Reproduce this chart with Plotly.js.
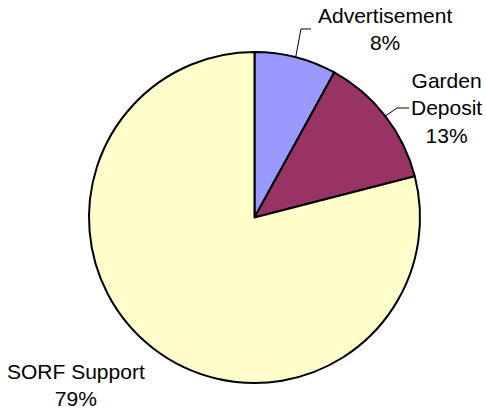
<!DOCTYPE html>
<html>
<head>
<meta charset="utf-8">
<script src="https://cdn.plot.ly/plotly-3.0.1.min.js"></script>
<style>html,body{margin:0;padding:0;background:#fff}#chart{width:486px;height:409px}</style>
</head>
<body>
<div id="chart"></div>
<script>
// Data
const categories = ['Advertisement', 'Garden Deposit', 'SORF Support'];
const values = [8, 13, 79];
const labelLines = ['Advertisement', 'Garden<br>Deposit', 'SORF Support'];
const colors = ['#9999FF', '#993366', '#FFFFCC'];

const W = 486, H = 409;
const pie = {left: 89, right: 420, top: 52, bottom: 383};
const cx = (pie.left + pie.right) / 2, cy = (pie.top + pie.bottom) / 2;
const R = (pie.right - pie.left) / 2;
const px = x => x / W, py = y => 1 - y / H;

const total = values.reduce((a, b) => a + b, 0);
const pct = values.map(v => Math.round(v / total * 100) + '%');

// label placement (pixel centers) and leader-line geometry
const labelPos = [
  {x: 385, y: 29, line: [[301, 29], [311, 29]]},
  {x: 446, y: 108, line: [[397, 108], [409, 108]]},
  {x: 76, y: 385, line: null}
];

let cum = 0;
const shapes = [];
values.forEach((v, i) => {
  const mid = (cum + v / 2) / total;
  cum += v;
  const lp = labelPos[i];
  if (!lp.line) return;
  const th = 2 * Math.PI * mid;
  const ex = cx + R * Math.sin(th), ey = cy - R * Math.cos(th);
  const pts = [[ex, ey]].concat(lp.line);
  const path = pts.map((p, k) => (k ? 'L' : 'M') + px(p[0]).toFixed(4) + ',' + py(p[1]).toFixed(4)).join(' ');
  shapes.push({type: 'path', xref: 'paper', yref: 'paper', path: path,
    line: {color: '#000', width: 1}});
});

const annotations = categories.map((c, i) => ({
  xref: 'paper', yref: 'paper',
  x: px(labelPos[i].x), y: py(labelPos[i].y),
  xanchor: 'center', yanchor: 'middle',
  text: labelLines[i] + '<br>' + pct[i],
  showarrow: false, align: 'center',
  font: {family: 'Liberation Sans, Arial, sans-serif', size: 21, color: '#000'}
}));

const trace = {
  type: 'pie',
  labels: categories,
  values: values,
  sort: false,
  direction: 'clockwise',
  rotation: 0,
  textinfo: 'none',
  hoverinfo: 'label+percent',
  marker: {colors: colors, line: {color: '#000', width: 2}},
  domain: {x: [px(pie.left), px(pie.right)], y: [py(pie.bottom), py(pie.top)]}
};

const layout = {
  width: W, height: H,
  margin: {l: 0, r: 0, t: 0, b: 0},
  showlegend: false,
  paper_bgcolor: '#fff',
  annotations: annotations,
  shapes: shapes
};

Plotly.newPlot('chart', [trace], layout, {displayModeBar: false, staticPlot: true});
</script>
</body>
</html>
